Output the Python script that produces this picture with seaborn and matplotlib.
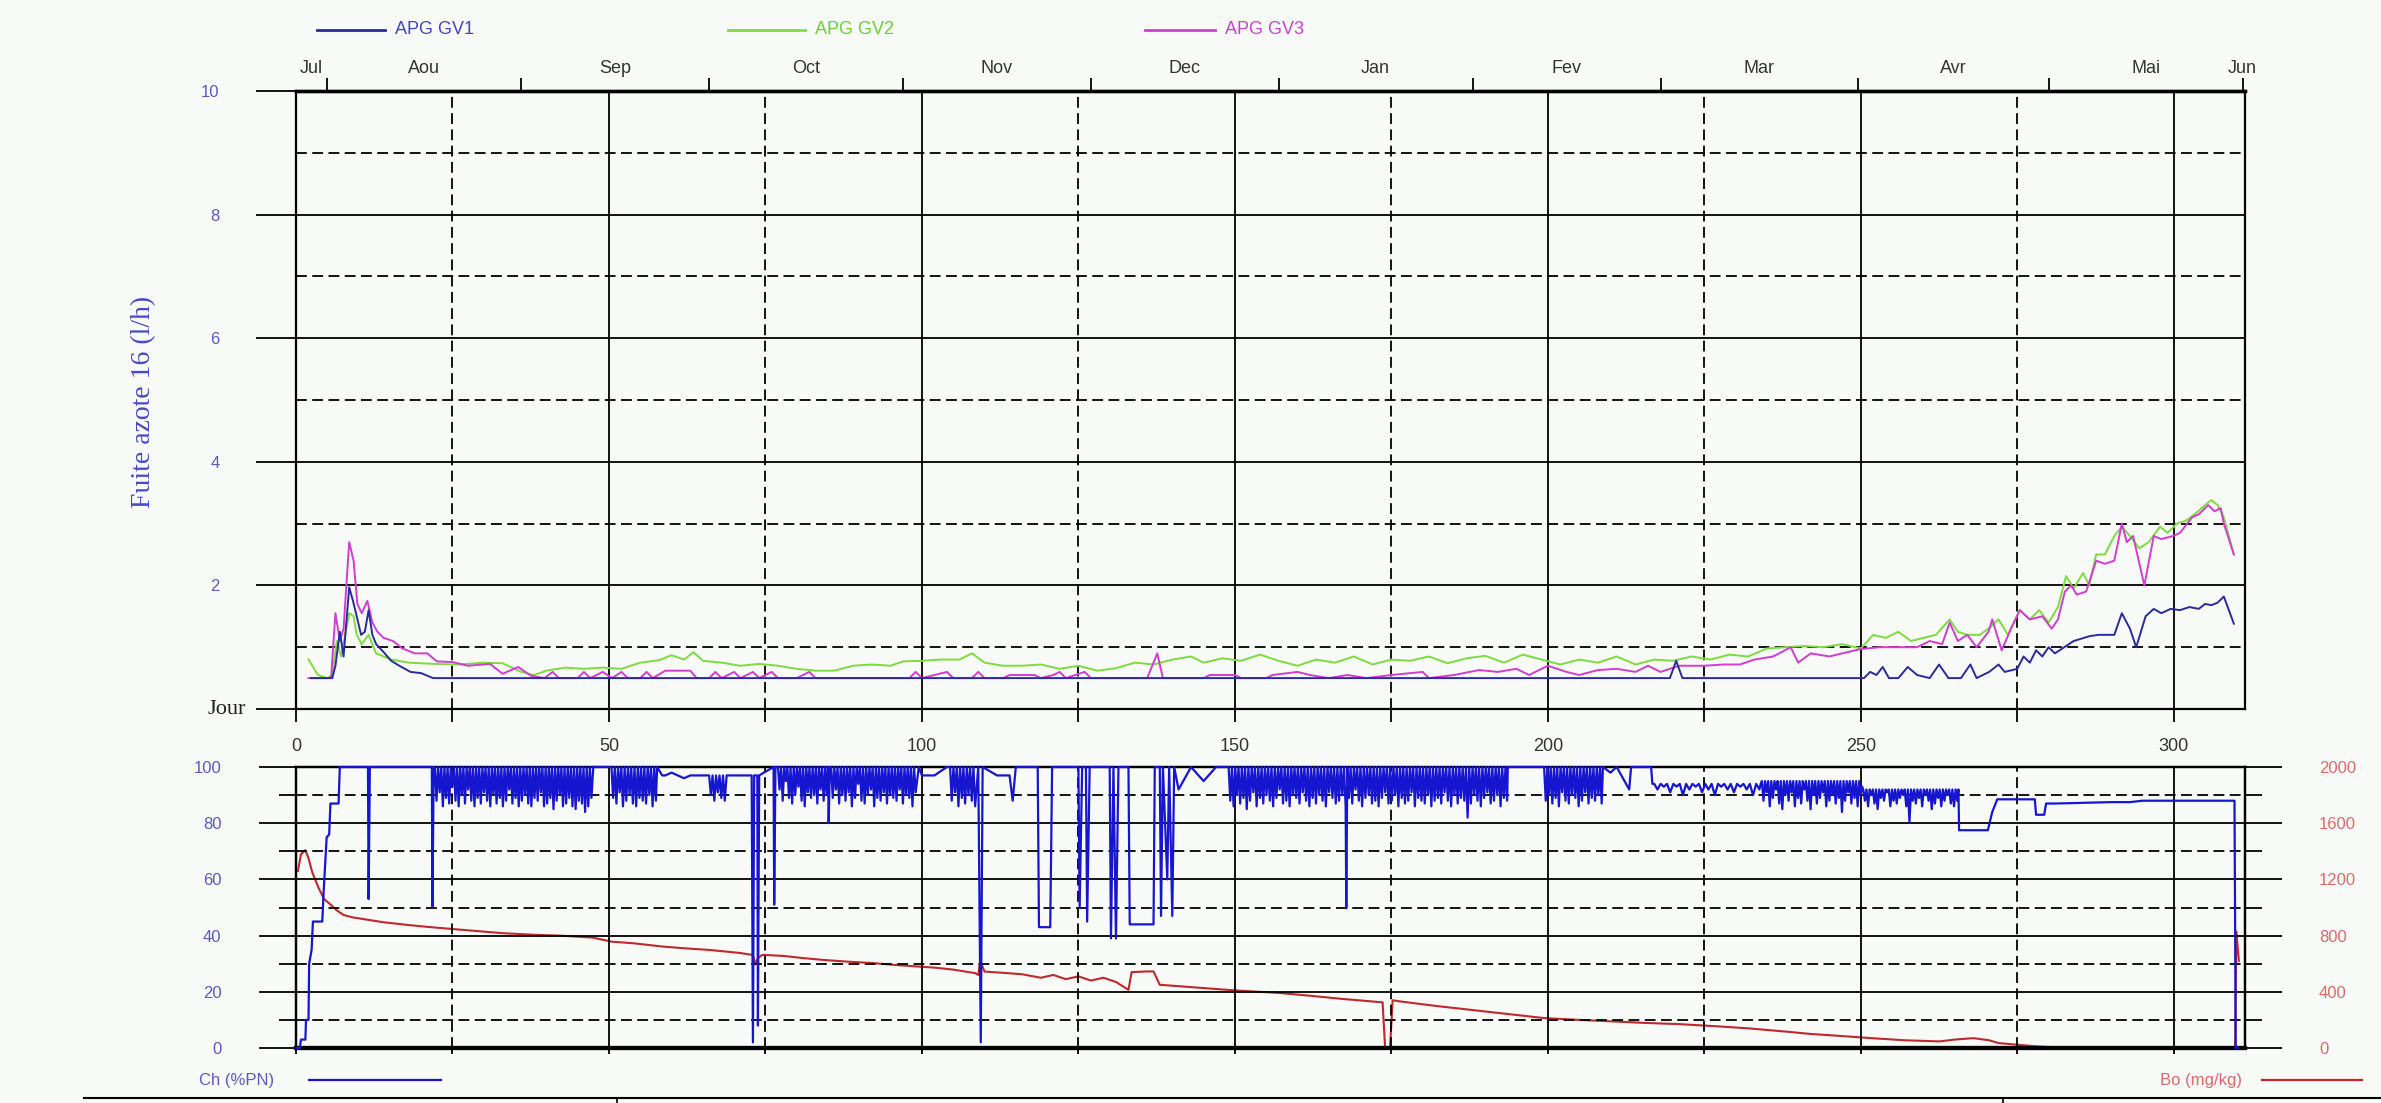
import numpy as np
import matplotlib
matplotlib.use("Agg")
import matplotlib.pyplot as plt
from matplotlib.lines import Line2D
from matplotlib.ticker import MultipleLocator
import seaborn as sns

plt.rcParams['font.family'] = ['Liberation Sans', 'DejaVu Sans']

# ---------------- data ----------------
month_labels = ['Jul', 'Aou', 'Sep', 'Oct', 'Nov', 'Dec', 'Jan', 'Fev', 'Mar', 'Avr', 'Mai', 'Jun']
month_starts = [5, 36, 66, 97, 127, 157, 188, 218, 249.5, 280, 311]   # 1st day of Aou ... Jun

# nitrogen leak (l/h), (day, value)
gv1 = [(2.4, 0.5), (5.8, 0.5), (6.3, 0.7), (7.0, 1.25), (7.6, 0.85), (8.5, 1.97), (9.1, 1.75),
       (9.7, 1.5), (10.4, 1.2), (11.0, 1.25), (11.6, 1.6), (12.2, 1.2), (12.8, 1.05), (14, 0.92),
       (15.2, 0.78), (16.5, 0.7), (18.3, 0.6), (20, 0.58), (21.9, 0.5), (219.5, 0.5), (220.5, 0.78),
       (221.5, 0.5), (250.5, 0.5), (251.5, 0.6), (252.5, 0.55), (253.5, 0.68), (254.5, 0.5),
       (256, 0.5), (257.5, 0.68), (259, 0.55), (261, 0.5), (262.5, 0.72), (264, 0.5), (266, 0.5),
       (267.5, 0.72), (268.5, 0.5), (270.5, 0.6), (272, 0.72), (273, 0.6), (275, 0.65), (276, 0.85),
       (277, 0.75), (278, 0.95), (279, 0.85), (280, 1.0), (281, 0.9), (282.5, 1.0), (284, 1.1),
       (286.6, 1.18), (288, 1.2), (290.5, 1.2), (291.7, 1.55), (293, 1.3), (294, 1.0), (295.5, 1.5),
       (296.8, 1.62), (298, 1.55), (299.5, 1.62), (301, 1.6), (302.5, 1.65), (304, 1.62), (305, 1.7),
       (306, 1.68), (307, 1.72), (308, 1.82), (309.6, 1.38)]

gv2 = [(2, 0.8), (3.5, 0.55), (5, 0.5), (5.8, 0.55), (6.5, 1.1), (7.2, 0.85), (8.5, 1.55), (9.2, 1.5),
       (9.7, 1.2), (10.5, 1.05), (11.6, 1.2), (12.8, 0.9), (14, 0.85), (15.2, 0.8), (18, 0.75),
       (22, 0.73), (26, 0.72), (30, 0.75), (33, 0.74), (36, 0.6), (38, 0.55), (40, 0.62), (43, 0.67),
       (46, 0.65), (49, 0.67), (52, 0.65), (55, 0.75), (58, 0.79), (60, 0.87), (62, 0.8), (63.5, 0.92),
       (65, 0.78), (68, 0.75), (71, 0.7), (74, 0.73), (77, 0.7), (80, 0.65), (83, 0.62), (86, 0.62),
       (89, 0.7), (92, 0.72), (95, 0.7), (97, 0.77), (100, 0.78), (103, 0.8), (106, 0.8), (108, 0.9),
       (110, 0.75), (113, 0.7), (116, 0.7), (119, 0.72), (122, 0.65), (125, 0.7), (128, 0.62),
       (131, 0.66), (134, 0.75), (137, 0.72), (140, 0.8), (143, 0.85), (145, 0.75), (148, 0.82),
       (151, 0.78), (154, 0.88), (157, 0.78), (160, 0.7), (163, 0.8), (166, 0.75), (169, 0.85),
       (172, 0.72), (175, 0.8), (178, 0.78), (181, 0.85), (184, 0.74), (187, 0.82), (190, 0.86),
       (193, 0.75), (196, 0.88), (199, 0.8), (202, 0.72), (205, 0.8), (208, 0.75), (211, 0.85),
       (214, 0.72), (217, 0.8), (220, 0.78), (223, 0.85), (226, 0.8), (229, 0.88), (232, 0.85),
       (235, 0.98), (238, 1.0), (241, 1.02), (244, 1.0), (247, 1.05), (250, 0.98), (252, 1.2),
       (254, 1.15), (256, 1.25), (258, 1.1), (260, 1.15), (262, 1.2), (264.2, 1.45), (265.5, 1.25),
       (267, 1.2), (269, 1.2), (270.4, 1.3), (272, 1.45), (273.5, 1.2), (275.4, 1.6), (277, 1.45),
       (278.5, 1.6), (280, 1.4), (281.5, 1.65), (282.8, 2.15), (284, 1.95), (285.5, 2.2), (286.5, 2.0),
       (287.6, 2.5), (289, 2.5), (290.5, 2.8), (291.7, 2.95), (293, 2.8), (294.5, 2.6), (296, 2.7),
       (297.8, 2.95), (299, 2.85), (300.5, 3.0), (302, 3.05), (303.9, 3.2), (305, 3.3), (306, 3.38),
       (307, 3.3), (308, 3.1), (309.6, 2.5)]

gv3 = [(2, 0.5), (5.6, 0.5), (6.3, 1.55), (7, 1.1), (7.6, 1.3), (8.5, 2.7), (9.2, 2.4), (9.8, 1.7),
       (10.5, 1.55), (11.4, 1.75), (12.2, 1.4), (13, 1.25), (14, 1.15), (15.5, 1.1), (17, 0.98),
       (19, 0.9), (21, 0.9), (22.5, 0.77), (25, 0.76), (27.5, 0.7), (31, 0.73), (33, 0.57),
       (35.5, 0.68), (37.5, 0.54), (39.7, 0.5), (41, 0.6), (42, 0.5), (45, 0.5), (46, 0.6), (47, 0.5),
       (49, 0.6), (50.5, 0.5), (52, 0.6), (53, 0.5), (55, 0.5), (56, 0.6), (57, 0.5), (59, 0.62),
       (63, 0.62), (64, 0.5), (66, 0.5), (67, 0.6), (68, 0.5), (70, 0.6), (71, 0.5), (73, 0.6),
       (74, 0.5), (76, 0.6), (77, 0.5), (80, 0.5), (82, 0.6), (83, 0.5), (98, 0.5), (99, 0.6),
       (100, 0.5), (102, 0.55), (104, 0.6), (105, 0.5), (108, 0.5), (109, 0.6), (110, 0.5),
       (113, 0.5), (114, 0.55), (118, 0.55), (119, 0.5), (121, 0.55), (122, 0.6), (123, 0.5),
       (126, 0.6), (127, 0.5), (130, 0.5), (136, 0.5), (137.6, 0.9), (138.5, 0.5), (145, 0.5),
       (146, 0.55), (150, 0.55), (151, 0.5), (155, 0.5), (156, 0.55), (160, 0.6), (162, 0.55),
       (165, 0.5), (168, 0.55), (171, 0.5), (175, 0.55), (180, 0.6), (181, 0.5), (185, 0.55),
       (189, 0.63), (192, 0.6), (195, 0.65), (197, 0.55), (200, 0.7), (203, 0.6), (205, 0.55),
       (208, 0.63), (211, 0.65), (214, 0.6), (216, 0.7), (218, 0.6), (221, 0.7), (225, 0.7),
       (228, 0.72), (230.7, 0.72), (233, 0.8), (236, 0.85), (238.8, 1.0), (240, 0.75), (242, 0.9),
       (245, 0.85), (247, 0.9), (250, 0.97), (253, 1.0), (256, 1.0), (259, 1.0), (261, 1.1),
       (263, 1.05), (264.2, 1.4), (265.5, 1.1), (267, 1.2), (268.5, 1.0), (270.4, 1.25), (271, 1.45),
       (272.5, 0.95), (274, 1.3), (275.4, 1.6), (277, 1.45), (279, 1.5), (280.5, 1.3), (281.5, 1.45),
       (282.6, 1.9), (283.6, 2.0), (284.5, 1.85), (286, 1.9), (287.6, 2.4), (289, 2.35), (290.5, 2.4),
       (291.7, 3.0), (292.5, 2.7), (293.5, 2.8), (295.3, 2.0), (296.8, 2.8), (298, 2.75), (299.9, 2.8),
       (301, 2.85), (302.9, 3.1), (304, 3.15), (305.5, 3.3), (306.5, 3.2), (307.5, 3.25), (308, 3.0),
       (309.6, 2.5)]

# power level Ch (%PN): slow parts and big drops, (day, value)
ch_main = [(0, 0), (0.6, 0), (0.8, 3), (1.5, 3), (1.6, 10), (2.0, 10), (2.1, 30), (2.5, 35), (2.7, 45),
           (4.2, 45), (4.4, 55), (4.9, 75), (5.3, 76), (5.5, 87), (6.8, 87), (7.0, 100), (11.5, 100),
           (11.6, 53), (11.8, 100), (21.7, 100), (21.8, 50), (22.0, 100),
           (47.5, 100), (50.2, 100),
           (57.7, 100), (58.5, 97), (59, 97), (60, 98), (62, 96), (63, 97), (65.8, 97),
           (68.8, 97), (72.8, 97), (73.0, 2), (73.2, 97), (73.7, 97), (73.8, 8), (74.0, 97),
           (76.3, 100), (76.4, 51), (76.6, 100),
           (85.0, 100), (85.1, 80), (85.3, 100),
           (99.5, 100), (100, 97), (102, 97), (104, 100),
           (109, 100), (109.4, 2), (109.7, 100), (112, 97), (114, 97), (114.5, 88), (115, 100),
           (118.5, 100), (118.7, 43), (120.5, 43), (120.8, 100), (125, 100), (125.2, 50), (125.6, 100),
           (126.2, 100), (126.4, 45), (126.8, 100), (130, 100), (130.2, 39), (130.6, 100), (131, 39),
           (131.4, 100), (133, 100), (133.2, 44), (137, 44), (137.2, 100), (138, 100), (138.2, 47),
           (138.5, 100), (139.2, 60), (139.5, 100), (140, 47), (140.3, 100), (141, 92), (143, 100),
           (145, 95), (147, 100), (148.8, 100),
           (167.8, 49.7),
           (193.6, 100), (199.2, 100),
           (208.8, 100), (210, 98), (211, 100), (213, 92), (213.3, 100), (216.5, 100), (216.7, 94),
           (234, 94), (250.2, 93),
           (265.6, 92), (265.7, 77.5), (270.3, 77.5), (271, 84), (271.8, 88.5), (277.8, 88.5), (278, 83),
           (279.3, 83), (279.6, 87), (281, 87), (290, 87.5), (293, 87.5), (295, 88), (300, 88),
           (309.7, 88), (309.9, 0), (310.3, 0)]

# dense daily load-follow bands: (start day, end day, upper level) and the dips
ch_band_spans = [(22.2, 47.2, 100), (50.4, 57.5, 100), (66, 68.5, 97), (77, 84.8, 100),
                 (85.5, 99, 100), (104.5, 108.5, 100), (149, 193.5, 100), (199.4, 208.6, 100),
                 (217, 233.8, 94), (234.2, 250, 95), (250.4, 265.4, 92)]
ch_band_lows = [
    [88, 91, 86, 89, 87, 93, 88, 86, 90, 87, 92, 88, 86, 89, 87, 91, 88, 86, 90, 87, 89, 86, 88, 92, 87,
     89, 86, 88, 90, 87, 86, 89, 88, 91, 86, 87, 89, 85, 88, 90, 86, 87, 89, 86, 85, 88, 87, 84, 86, 89],
    [89, 87, 91, 86, 88, 90, 87, 86, 89, 88, 87, 90, 86, 88],
    [90, 88, 91, 89, 88],
    [92, 88, 95, 89, 87, 90, 93, 88, 86, 91, 89, 90, 87, 92, 88, 90],
    [89, 92, 87, 90, 88, 91, 86, 89, 94, 88, 87, 90, 92, 86, 89, 88, 91, 87, 90, 89, 88, 92, 87, 90, 89,
     86, 91],
    [88, 91, 86, 89, 87, 90, 88, 86],
    [88, 86, 90, 87, 89, 85, 88, 91, 86, 89, 87, 90, 88, 86, 89, 92, 87, 88, 86, 90, 89, 87, 91, 88, 86,
     89, 87, 90, 88, 86, 91, 89, 87, 88, 90, 86, 89, 87, 92, 88, 86, 89, 90, 87, 88, 86, 89, 91, 87, 88,
     90, 86, 89, 87, 88, 91, 86, 89, 88, 87, 90, 86, 88, 89, 87, 91, 88, 86, 90, 87, 89, 88, 82, 87, 90,
     88, 86, 89, 91, 87, 88, 90, 86, 89, 88],
    [88, 90, 87, 89, 86, 91, 88, 87, 90, 89, 86, 88, 91, 87, 89, 88, 90, 87],
    [92, 93, 91, 93, 90, 92, 93, 91, 92, 90, 93, 92, 91, 93, 92, 90, 92],
    [88, 91, 86, 89, 92, 87, 85, 90, 88, 91, 86, 89, 87, 92, 88, 85, 90, 87, 89, 91, 86, 88, 90, 87, 89,
     84, 88, 91, 87, 89, 86, 90],
    [88, 86, 90, 87, 85, 89, 88, 91, 86, 88, 87, 89, 90, 86, 80.5, 88, 87, 89, 86, 90, 88, 85, 87, 89,
     86, 88, 90, 87, 86, 88],
]

# boron Bo (mg/kg), (day, value)
bo = [(0.3, 1260), (0.8, 1380), (1.5, 1408), (2, 1350), (2.6, 1250), (3.6, 1140), (4.5, 1060),
      (5.6, 1018), (6.5, 980), (7.6, 947), (9, 930), (11.7, 911), (14, 895), (17.8, 876), (21, 862),
      (25, 847), (29, 832), (33.1, 817), (38, 806), (42, 800), (47.4, 786), (50.4, 757), (54, 745),
      (58.6, 722), (62, 710), (66, 698), (68.8, 686), (71, 676), (73, 662), (73.4, 595), (73.8, 640),
      (74.5, 663), (78, 655), (81, 640), (84.2, 627), (88, 615), (92, 605), (96, 590), (99.3, 580),
      (102, 572), (105, 558), (108.5, 533), (109, 520), (109.3, 620), (110, 544), (113, 535),
      (116, 525), (119, 500), (121, 520), (123, 490), (125, 510), (127, 480), (129, 500), (131, 470),
      (133, 414), (133.5, 540), (136, 545), (137, 545), (138, 450), (141, 440), (145.2, 426),
      (150, 410), (157, 392), (162, 372), (167, 350), (172, 331), (173.6, 325), (174, 0), (174.8, 10),
      (175.2, 340), (176.5, 331), (182, 300), (187.6, 272), (193, 245), (199.4, 213), (205, 200),
      (210, 190), (215.8, 178), (221, 170), (227.2, 154), (232, 140), (237.7, 118), (242, 100),
      (247, 85), (251.4, 71), (257, 55), (262.6, 47), (265, 60), (268, 70), (270.5, 55), (272, 35),
      (274.8, 24), (278, 12), (281, 5), (290, 3), (300, 2), (309.8, 2), (310, 830), (310.4, 620)]

top_yticks = [0, 2, 4, 6, 8, 10]
top_ylabels = ['', '2', '4', '6', '8', '10']
ch_ticks = [0, 20, 40, 60, 80, 100]
bo_ticks = [0, 400, 800, 1200, 1600, 2000]

# ---------------- colours ----------------
c_gv1, c_gv2, c_gv3 = '#2a2a9e', '#7ddc3c', '#d23cd2'
c_ch, c_bo = '#1616d0', '#c0282c'
c_lab_blue, c_lab_red, c_txt = '#5a5ac4', '#e06868', '#333333'
dash = (0, (6, 3))

W, H = 2381, 1103
fig = plt.figure(figsize=(W / 100, H / 100), dpi=100, facecolor='#f8faf8')
left, right = 296, 2244.5
ax_top = fig.add_axes([left / W, 1 - 709 / H, (right - left) / W, (709 - 91) / H])
ax_bot = fig.add_axes([left / W, 1 - 1048 / H, (right - left) / W, (1048 - 767) / H])
xmax = 311.3


def unzip(pairs):
    d, v = zip(*pairs)
    return np.array(d, float), np.array(v, float)


# ---------------- top panel ----------------
for series, col in [(gv2, c_gv2), (gv3, c_gv3), (gv1, c_gv1)]:
    d, v = unzip(series)
    sns.lineplot(x=d, y=v, ax=ax_top, color=col, lw=1.4, estimator=None, sort=False, zorder=3)

ax_top.set_facecolor('none')
ax_top.set_xlim(0, xmax)
ax_top.set_ylim(0, 10)
ax_top.xaxis.set_major_locator(MultipleLocator(50))
ax_top.xaxis.set_minor_locator(MultipleLocator(25))
ax_top.set_yticks(top_yticks, labels=top_ylabels)
ax_top.yaxis.set_minor_locator(MultipleLocator(1))
ax_top.grid(which='major', color='black', lw=1.3, ls='-')
ax_top.grid(which='minor', color='black', lw=1.3, ls=dash)
ax_top.tick_params(axis='y', which='major', direction='out', length=29, width=1.3, pad=26,
                   labelsize=12, labelcolor=c_lab_blue)
ax_top.tick_params(axis='y', which='minor', length=0)
ax_top.tick_params(axis='x', which='both', direction='out', length=9, width=1.3)
ax_top.tick_params(axis='x', which='major', pad=12, labelsize=13, labelcolor=c_txt)
for s in ax_top.spines.values():
    s.set_linewidth(1.6)
ax_top.spines['top'].set_linewidth(2.4)
ax_top.set_xlabel('')
ax_top.set_ylabel('')
ax_top.annotate('Jour', xy=(0, 0), xycoords=ax_top.get_yaxis_transform(), xytext=(-36, 0),
                textcoords='offset points', ha='right', va='center',
                family=['Liberation Serif', 'DejaVu Serif'], size=16, color='#222222')

# month axis on top
mids = [month_starts[0] / 2] + [(a + b) / 2 for a, b in zip(month_starts[:-1], month_starts[1:])] \
    + [month_starts[-1] - 0.01]
sec = ax_top.secondary_xaxis('top')
sec.xaxis.remove_overlapping_locs = False
sec.set_xticks(month_starts, labels=[''] * len(month_starts))
sec.set_xticks(mids, labels=month_labels, minor=True)
sec.tick_params(which='major', direction='out', length=9.5, width=1.3)
sec.tick_params(which='minor', length=0, pad=10, labelsize=13, labelcolor=c_txt)
sec.spines['top'].set_linewidth(2.4)

# ---------------- bottom panel ----------------
ch_d, ch_v = unzip(ch_main)
parts_d, parts_v = [ch_d], [ch_v]
for (start, end, upper), lows in zip(ch_band_spans, ch_band_lows):
    bd = np.linspace(start, end, 2 * len(lows))
    bv = np.empty(2 * len(lows))
    bv[0::2] = upper
    bv[1::2] = lows
    parts_d.append(bd)
    parts_v.append(bv)
all_d = np.concatenate(parts_d)
all_v = np.concatenate(parts_v)
order = np.argsort(all_d, kind='stable')
all_d, all_v = all_d[order], all_v[order]

ax_bo = ax_bot.twinx()
bo_d, bo_v = unzip(bo)
sns.lineplot(x=bo_d, y=bo_v, ax=ax_bo, color=c_bo, lw=1.5, estimator=None, sort=False, zorder=3)
sns.lineplot(x=all_d, y=all_v, ax=ax_bot, color=c_ch, lw=1.6, estimator=None, sort=False,
             zorder=3, clip_on=False)
ax_bot.set_zorder(ax_bo.get_zorder() + 1)
ax_bot.set_facecolor('none')
ax_bo.set_facecolor('none')

ax_bot.set_xlim(0, xmax)
ax_bot.set_ylim(0, 100)
ax_bo.set_ylim(0, 2000)
ax_bot.xaxis.set_major_locator(MultipleLocator(50))
ax_bot.xaxis.set_minor_locator(MultipleLocator(25))
ax_bot.set_yticks(ch_ticks)
ax_bot.yaxis.set_minor_locator(MultipleLocator(10))
ax_bo.set_yticks(bo_ticks)
ax_bo.yaxis.set_minor_locator(MultipleLocator(200))
ax_bot.grid(which='major', color='black', lw=1.3, ls='-')
ax_bot.grid(which='minor', color='black', lw=1.3, ls=dash)
ax_bot.tick_params(axis='x', which='both', direction='out', length=4, width=1.3, labelbottom=False)
ax_bot.tick_params(axis='y', which='major', direction='out', length=26.6, width=1.3, pad=27,
                   labelsize=12, labelcolor=c_lab_blue)
ax_bot.tick_params(axis='y', which='minor', direction='out', length=12, width=1.3)
ax_bo.tick_params(axis='y', which='major', direction='out', length=26.6, width=1.3, pad=27,
                  labelsize=12, labelcolor=c_lab_red)
ax_bo.tick_params(axis='y', which='minor', direction='out', length=12, width=1.3)
for a in (ax_bot, ax_bo):
    a.set_xlabel('')
    a.set_ylabel('')
    for s in a.spines.values():
        s.set_linewidth(1.6)
ax_bot.spines['bottom'].set_linewidth(3)
ax_bo.spines['bottom'].set_linewidth(3)


# ---------------- figure texts / legends ----------------
def fx(px):
    return px / W


def fy(py):
    return 1 - py / H


fig.text(fx(144), fy(402), 'Fuite azote 16 (l/h)', rotation=90, ha='center', va='center',
         family=['Liberation Serif', 'DejaVu Serif'], size=20, color='#4848c8')

for x0, x1, name, col, tcol in [(317, 385, 'APG GV1', c_gv1, '#4444c0'),
                                (728, 805, 'APG GV2', c_gv2, '#6cd034'),
                                (1145, 1215, 'APG GV3', c_gv3, '#d040d0')]:
    fig.add_artist(Line2D([fx(x0), fx(x1)], [fy(30), fy(30)], transform=fig.transFigure,
                          color=col, lw=2))
    fig.text(fx(x1 + 10), fy(30), name, ha='left', va='center', size=13, color=tcol)

fig.text(fx(199), fy(1080), 'Ch (%PN)', ha='left', va='center', size=12, color=c_lab_blue)
fig.add_artist(Line2D([fx(309), fx(441)], [fy(1080), fy(1080)], transform=fig.transFigure,
                      color=c_ch, lw=1.6))
fig.text(fx(2242), fy(1080), 'Bo (mg/kg)', ha='right', va='center', size=12, color=c_lab_red)
fig.add_artist(Line2D([fx(2262), fx(2362)], [fy(1080), fy(1080)], transform=fig.transFigure,
                      color=c_bo, lw=1.6))

# frame line of the table below the chart
fig.add_artist(Line2D([fx(84), 1.0], [fy(1098), fy(1098)], transform=fig.transFigure,
                      color='black', lw=1.5))
for xt in (617, 2003):
    fig.add_artist(Line2D([fx(xt), fx(xt)], [fy(1098), fy(1103)], transform=fig.transFigure,
                          color='black', lw=1.2))

fig.savefig('out.png', dpi=100, facecolor=fig.get_facecolor())
